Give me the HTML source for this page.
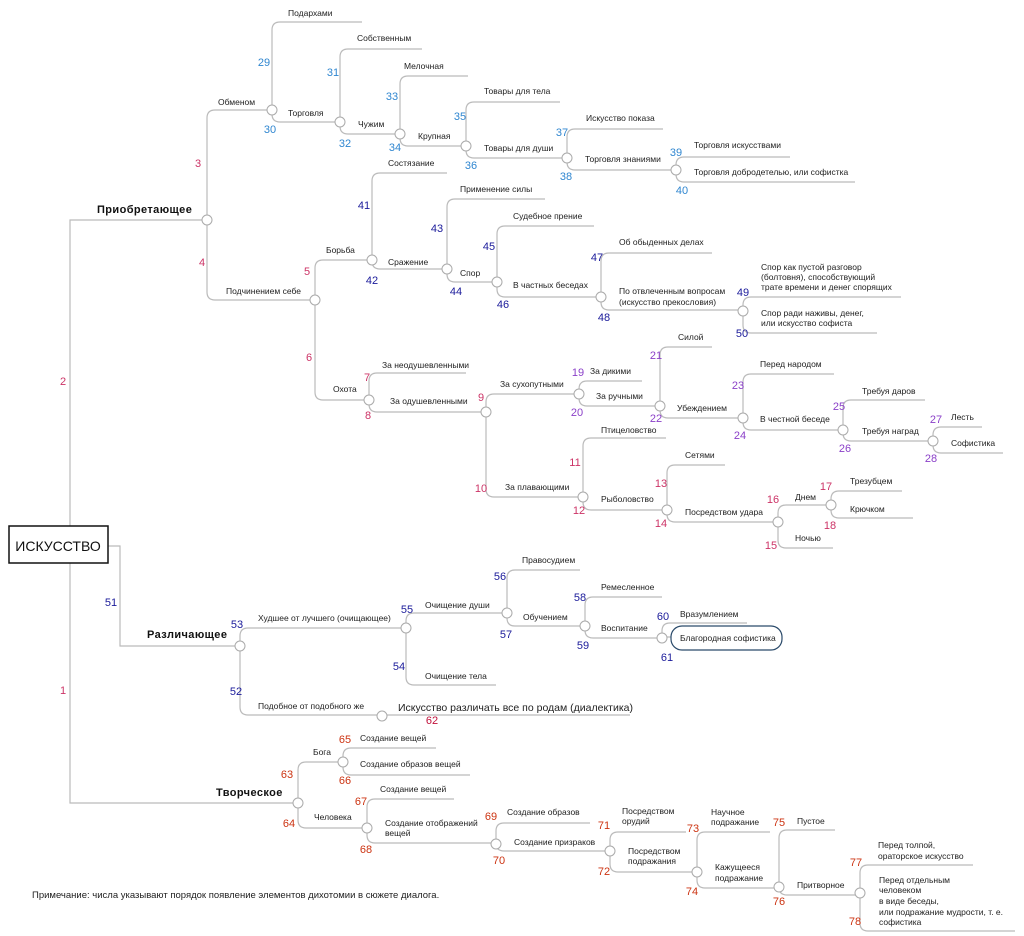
<!DOCTYPE html>
<html><head><meta charset="utf-8"><style>
html,body{margin:0;padding:0;background:#fff}
svg{display:block}
.l{font-family:"Liberation Sans",sans-serif;font-size:8.5px;fill:#222}
.b{font-family:"Liberation Sans",sans-serif;font-size:11px;font-weight:bold;fill:#111;letter-spacing:0.4px}
.n{font-family:"Liberation Sans",sans-serif;font-size:11px;text-anchor:middle}
.p{fill:#cc3366}.v{fill:#8a3fc8}.c{fill:#2f86d0}.d{fill:#1a1a9a}.r{fill:#cc3311}
path{fill:none;stroke:#bbb;stroke-width:1.2}
circle{fill:#fff;stroke:#aaa;stroke-width:1}
</style></head><body>
<svg width="1024" height="936" viewBox="0 0 1024 936" xmlns="http://www.w3.org/2000/svg">
<path d="M70,526 V220 H207"/>
<path d="M108,546 H120 V646 H240"/>
<path d="M70,563 V803 H298"/>
<path d="M272,110 H215 Q207,110 207,118 V292 Q207,300 215,300 H315"/>
<path d="M362,22 H280 Q272,22 272,30 V114 Q272,122 280,122 H340"/>
<path d="M422,49 H348 Q340,49 340,57 V126 Q340,134 348,134 H400"/>
<path d="M468,76 H408 Q400,76 400,84 V138 Q400,146 408,146 H466"/>
<path d="M560,102 H474 Q466,102 466,110 V150 Q466,158 474,158 H567"/>
<path d="M663,129 H575 Q567,129 567,137 V162 Q567,170 575,170 H676"/>
<path d="M790,157 H684 Q676,157 676,165 V174 Q676,182 684,182 H855"/>
<path d="M372,260 H323 Q315,260 315,268 V392 Q315,400 323,400 H369"/>
<path d="M447,173 H380 Q372,173 372,181 V261 Q372,269 380,269 H447"/>
<path d="M545,199 H455 Q447,199 447,207 V274 Q447,282 455,282 H497"/>
<path d="M594,226 H505 Q497,226 497,234 V289 Q497,297 505,297 H601"/>
<path d="M712,253 H609 Q601,253 601,261 V302 Q601,310 609,310 H743"/>
<path d="M901,297 H751 Q743,297 743,305 V325 Q743,333 751,333 H877"/>
<path d="M466,373 H377 Q369,373 369,381 V404 Q369,412 377,412 H486"/>
<path d="M579,394 H494 Q486,394 486,402 V489 Q486,497 494,497 H583"/>
<path d="M642,381 H587 Q579,381 579,389 V398 Q579,406 587,406 H660"/>
<path d="M712,347 H668 Q660,347 660,355 V410 Q660,418 668,418 H743"/>
<path d="M834,374 H751 Q743,374 743,382 V422 Q743,430 751,430 H843"/>
<path d="M925,400 H851 Q843,400 843,408 V433 Q843,441 851,441 H933"/>
<path d="M982,427 H941 Q933,427 933,435 V445 Q933,453 941,453 H1003"/>
<path d="M666,438 H591 Q583,438 583,446 V502 Q583,510 591,510 H667"/>
<path d="M725,465 H675 Q667,465 667,473 V514 Q667,522 675,522 H778"/>
<path d="M831,505 H786 Q778,505 778,513 V540 Q778,548 786,548 H833"/>
<path d="M902,491 H839 Q831,491 831,499 V510 Q831,518 839,518 H913"/>
<path d="M406,628 H248 Q240,628 240,636 V707 Q240,715 248,715 H630"/>
<path d="M507,613 H414 Q406,613 406,621 V677 Q406,685 414,685 H496"/>
<path d="M580,570 H515 Q507,570 507,578 V618 Q507,626 515,626 H585"/>
<path d="M662,597 H593 Q585,597 585,605 V630 Q585,638 593,638 H662"/>
<path d="M747,623 H670 Q662,623 662,631 V637 H671"/>
<path d="M343,762 H306 Q298,762 298,770 V820 Q298,828 306,828 H367"/>
<path d="M436,748 H351 Q343,748 343,756 V767 Q343,775 351,775 H470"/>
<path d="M454,799 H375 Q367,799 367,807 V835 Q367,843 375,843 H496"/>
<path d="M590,823 H504 Q496,823 496,831 V843 Q496,851 504,851 H610"/>
<path d="M686,832 H618 Q610,832 610,840 V864 Q610,872 618,872 H697"/>
<path d="M770,832 H705 Q697,832 697,840 V880 Q697,888 705,888 H779"/>
<path d="M835,830 H787 Q779,830 779,838 V887 Q779,895 787,895 H860"/>
<path d="M973,865 H868 Q860,865 860,873 V923 Q860,931 868,931 H1015"/>

<g>
<circle cx="207" cy="220" r="5"/><circle cx="272" cy="110" r="5"/><circle cx="340" cy="122" r="5"/>
<circle cx="400" cy="134" r="5"/><circle cx="466" cy="146" r="5"/><circle cx="567" cy="158" r="5"/>
<circle cx="676" cy="170" r="5"/><circle cx="315" cy="300" r="5"/><circle cx="372" cy="260" r="5"/>
<circle cx="447" cy="269" r="5"/><circle cx="497" cy="282" r="5"/><circle cx="601" cy="297" r="5"/>
<circle cx="743" cy="311" r="5"/><circle cx="369" cy="400" r="5"/><circle cx="486" cy="412" r="5"/>
<circle cx="579" cy="394" r="5"/><circle cx="660" cy="406" r="5"/><circle cx="743" cy="418" r="5"/>
<circle cx="843" cy="430" r="5"/><circle cx="933" cy="441" r="5"/><circle cx="583" cy="497" r="5"/>
<circle cx="667" cy="510" r="5"/><circle cx="778" cy="522" r="5"/><circle cx="831" cy="505" r="5"/>
<circle cx="240" cy="646" r="5"/><circle cx="406" cy="628" r="5"/><circle cx="507" cy="613" r="5"/>
<circle cx="585" cy="626" r="5"/><circle cx="662" cy="638" r="5"/><circle cx="382" cy="716" r="5"/>
<circle cx="298" cy="803" r="5"/><circle cx="343" cy="762" r="5"/><circle cx="367" cy="828" r="5"/>
<circle cx="496" cy="844" r="5"/><circle cx="610" cy="851" r="5"/><circle cx="697" cy="872" r="5"/>
<circle cx="779" cy="887" r="5"/><circle cx="860" cy="893" r="5"/>
</g>

<rect x="9" y="526" width="99" height="37" fill="#fff" stroke="#111" stroke-width="1.5"/>
<text x="58" y="551" text-anchor="middle" style="font-family:'Liberation Sans',sans-serif;font-size:14px;fill:#111">ИСКУССТВО</text>
<rect x="671" y="626" width="111" height="24" rx="11" fill="#fff" stroke="#2a4a6a" stroke-width="1.2"/>
<text class="l" x="680" y="641">Благородная софистика</text>

<text class="b" x="97" y="213">Приобретающее</text>
<text class="b" x="147" y="638">Различающее</text>
<text class="b" x="216" y="796">Творческое</text>

<g class="l">
<text x="218" y="105">Обменом</text>
<text x="288" y="16">Подархами</text>
<text x="288" y="116">Торговля</text>
<text x="357" y="41">Собственным</text>
<text x="358" y="127">Чужим</text>
<text x="404" y="69">Мелочная</text>
<text x="418" y="139">Крупная</text>
<text x="484" y="94">Товары для тела</text>
<text x="484" y="151">Товары для души</text>
<text x="586" y="121">Искусство показа</text>
<text x="585" y="162">Торговля знаниями</text>
<text x="694" y="148">Торговля искусствами</text>
<text x="694" y="175">Торговля добродетелью, или софистка</text>
<text x="226" y="294">Подчинением себе</text>
<text x="326" y="253">Борьба</text>
<text x="388" y="166">Состязание</text>
<text x="388" y="265">Сражение</text>
<text x="460" y="192">Применение силы</text>
<text x="460" y="276">Спор</text>
<text x="513" y="219">Судебное прение</text>
<text x="513" y="288">В частных беседах</text>
<text x="619" y="245">Об обыденных делах</text>
<text x="619" y="294">По отвлеченным вопросам</text>
<text x="619" y="305">(искусство прекословия)</text>
<text x="761" y="270">Спор как пустой разговор</text>
<text x="761" y="280">(болтовня), способствующий</text>
<text x="761" y="290">трате времени и денег спорящих</text>
<text x="761" y="316">Спор ради наживы, денег,</text>
<text x="761" y="326">или искусство софиста</text>
<text x="333" y="392">Охота</text>
<text x="382" y="368">За неодушевленными</text>
<text x="390" y="404">За одушевленными</text>
<text x="500" y="387">За сухопутными</text>
<text x="505" y="490">За плавающими</text>
<text x="590" y="374">За дикими</text>
<text x="596" y="399">За ручными</text>
<text x="678" y="340">Силой</text>
<text x="677" y="411">Убеждением</text>
<text x="760" y="367">Перед народом</text>
<text x="760" y="422">В честной беседе</text>
<text x="862" y="394">Требуя даров</text>
<text x="862" y="434">Требуя наград</text>
<text x="951" y="420">Лесть</text>
<text x="951" y="446">Софистика</text>
<text x="601" y="433">Птицеловство</text>
<text x="601" y="502">Рыболовство</text>
<text x="685" y="458">Сетями</text>
<text x="685" y="515">Посредством удара</text>
<text x="795" y="500">Днем</text>
<text x="795" y="541">Ночью</text>
<text x="850" y="484">Трезубцем</text>
<text x="850" y="512">Крючком</text>
<text x="258" y="621">Худшее от лучшего (очищающее)</text>
<text x="258" y="709">Подобное от подобного же</text>
<text x="425" y="608">Очищение души</text>
<text x="425" y="679">Очищение тела</text>
<text x="522" y="563">Правосудием</text>
<text x="523" y="620">Обучением</text>
<text x="601" y="590">Ремесленное</text>
<text x="601" y="631">Воспитание</text>
<text x="680" y="617">Вразумлением</text>
<text x="313" y="755">Бога</text>
<text x="314" y="820">Человека</text>
<text x="360" y="741">Создание вещей</text>
<text x="360" y="767">Создание образов вещей</text>
<text x="380" y="792">Создание вещей</text>
<text x="385" y="826">Создание отображений</text>
<text x="385" y="836">вещей</text>
<text x="507" y="815">Создание образов</text>
<text x="514" y="845">Создание призраков</text>
<text x="622" y="814">Посредством</text>
<text x="622" y="824">орудий</text>
<text x="628" y="854">Посредством</text>
<text x="628" y="864">подражания</text>
<text x="711" y="815">Научное</text>
<text x="711" y="825">подражание</text>
<text x="715" y="870">Кажущееся</text>
<text x="715" y="881">подражание</text>
<text x="797" y="824">Пустое</text>
<text x="797" y="888">Притворное</text>
<text x="878" y="848">Перед толпой,</text>
<text x="878" y="859">ораторское искусство</text>
<text x="879" y="883">Перед отдельным</text>
<text x="879" y="893">человеком</text>
<text x="879" y="904">в виде беседы,</text>
<text x="879" y="915">или подражание мудрости, т. е.</text>
<text x="879" y="925">софистика</text>
</g>
<text x="398" y="711" style="font-family:'Liberation Sans',sans-serif;font-size:10.5px;fill:#222">Искусство различать все по родам (диалектика)</text>
<text x="32" y="898" style="font-family:'Liberation Sans',sans-serif;font-size:9.5px;fill:#222">Примечание: числа указывают порядок появление элементов дихотомии в сюжете диалога.</text>

<g class="n">
<text class="p" x="63" y="385">2</text>
<text class="d" x="111" y="606">51</text>
<text class="p" x="63" y="694">1</text>
<text class="p" x="198" y="167">3</text>
<text class="p" x="202" y="266">4</text>
<text class="c" x="264" y="66">29</text>
<text class="c" x="270" y="133">30</text>
<text class="c" x="333" y="76">31</text>
<text class="c" x="345" y="147">32</text>
<text class="c" x="392" y="100">33</text>
<text class="c" x="395" y="151">34</text>
<text class="c" x="460" y="120">35</text>
<text class="c" x="471" y="169">36</text>
<text class="c" x="562" y="136">37</text>
<text class="c" x="566" y="180">38</text>
<text class="c" x="676" y="156">39</text>
<text class="c" x="682" y="194">40</text>
<text class="p" x="307" y="275">5</text>
<text class="p" x="309" y="361">6</text>
<text class="d" x="364" y="209">41</text>
<text class="d" x="372" y="284">42</text>
<text class="d" x="437" y="232">43</text>
<text class="d" x="456" y="295">44</text>
<text class="d" x="489" y="250">45</text>
<text class="d" x="503" y="308">46</text>
<text class="d" x="597" y="261">47</text>
<text class="d" x="604" y="321">48</text>
<text class="d" x="743" y="296">49</text>
<text class="d" x="742" y="337">50</text>
<text class="p" x="367" y="381">7</text>
<text class="p" x="368" y="419">8</text>
<text class="p" x="481" y="401">9</text>
<text class="p" x="481" y="492">10</text>
<text class="v" x="578" y="376">19</text>
<text class="v" x="577" y="416">20</text>
<text class="v" x="656" y="359">21</text>
<text class="v" x="656" y="422">22</text>
<text class="v" x="738" y="389">23</text>
<text class="v" x="740" y="439">24</text>
<text class="v" x="839" y="410">25</text>
<text class="v" x="845" y="452">26</text>
<text class="v" x="936" y="423">27</text>
<text class="v" x="931" y="462">28</text>
<text class="p" x="575" y="466">11</text>
<text class="p" x="579" y="514">12</text>
<text class="p" x="661" y="487">13</text>
<text class="p" x="661" y="527">14</text>
<text class="p" x="773" y="503">16</text>
<text class="p" x="771" y="549">15</text>
<text class="p" x="826" y="490">17</text>
<text class="p" x="830" y="529">18</text>
<text class="d" x="237" y="628">53</text>
<text class="d" x="236" y="695">52</text>
<text class="d" x="407" y="613">55</text>
<text class="d" x="399" y="670">54</text>
<text class="d" x="500" y="580">56</text>
<text class="d" x="506" y="638">57</text>
<text class="d" x="580" y="601">58</text>
<text class="d" x="583" y="649">59</text>
<text class="d" x="663" y="620">60</text>
<text class="d" x="667" y="661">61</text>
<text x="432" y="724" style="fill:#c0103a">62</text>
<text class="r" x="287" y="778">63</text>
<text class="r" x="289" y="827">64</text>
<text class="r" x="345" y="743">65</text>
<text class="r" x="345" y="784">66</text>
<text class="r" x="361" y="805">67</text>
<text class="r" x="366" y="853">68</text>
<text class="r" x="491" y="820">69</text>
<text class="r" x="499" y="864">70</text>
<text class="r" x="604" y="829">71</text>
<text class="r" x="604" y="875">72</text>
<text class="r" x="693" y="832">73</text>
<text class="r" x="692" y="895">74</text>
<text class="r" x="779" y="826">75</text>
<text class="r" x="779" y="905">76</text>
<text class="r" x="856" y="866">77</text>
<text class="r" x="855" y="925">78</text>
</g>
</svg>
</body></html>
